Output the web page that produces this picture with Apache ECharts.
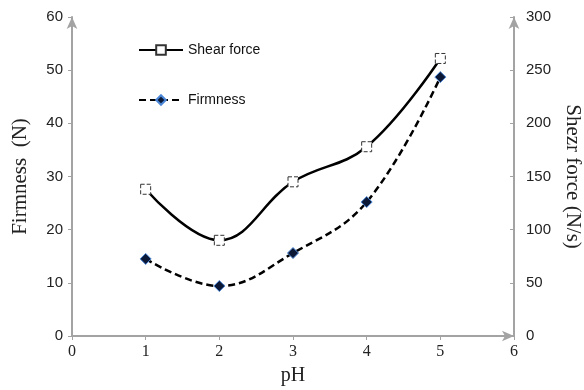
<!DOCTYPE html>
<html>
<head>
<meta charset="utf-8">
<script src="https://cdn.jsdelivr.net/npm/echarts@6/dist/echarts.min.js"></script>
<style>
	html, body { margin: 0; padding: 0; background: #fff; }
	#chart { width: 584px; height: 390px; }
</style>
</head>
<body>
<div id="chart"></div>
<script>
// pH values and the two measured series
var phValues = [1, 2, 3, 4, 5];
var shearForce = [138, 90, 145, 178, 261]; // N/s, right axis
var firmness = [14.5, 9.4, 15.6, 25.2, 48.7]; // N, left axis

function pairs(xs, ys) {
	return xs.map(function (x, i) { return [x, ys[i]]; });
}

var axisGray = "#a3a3a3";
var serif = "'Liberation Serif', 'DejaVu Serif', serif";
var sans = "'Liberation Sans', Arial, sans-serif";

var myChart = echarts.init(document.getElementById("chart"));
var option = {
	animation: false,
	backgroundColor: "#fff",
	grid: { left: 72, right: 70, top: 17, bottom: 54, outerBoundsMode: "none" },
	legend: {
		orient: "vertical",
		left: 133,
		top: 38,
		itemGap: 36,
		itemWidth: 44,
		itemHeight: 12,
		textStyle: { fontFamily: sans, fontSize: 14, color: "#111" },
		data: ["Shear force", "Firmness"],
	},
	xAxis: {
		type: "value",
		min: 0,
		max: 6,
		interval: 1,
		name: "pH",
		nameLocation: "middle",
		nameGap: 30,
		nameTextStyle: { fontFamily: serif, fontSize: 20, color: "#222" },
		axisLine: {
			lineStyle: { color: axisGray, width: 2 },
			symbol: ["none", "arrow"],
			symbolSize: [8, 12],
		},
		axisTick: { show: true, length: 4, lineStyle: { color: axisGray } },
		axisLabel: { fontFamily: serif, fontSize: 16, color: "#222", margin: 8 },
		splitLine: { show: false },
	},
	yAxis: [
		{
			type: "value",
			min: 0,
			max: 60,
			interval: 10,
			name: "Firmness  (N)",
			nameLocation: "middle",
			nameGap: 41,
			nameRotate: 90,
			nameTextStyle: { fontFamily: serif, fontSize: 21, color: "#222" },
			axisLine: {
				show: true,
				lineStyle: { color: axisGray, width: 2 },
				symbol: ["none", "arrow"],
				symbolSize: [8, 12],
			},
			axisTick: { show: true, length: 4, lineStyle: { color: axisGray } },
			axisLabel: { fontFamily: sans, fontSize: 15, color: "#222", margin: 9 },
			splitLine: { show: false },
		},
		{
			type: "value",
			min: 0,
			max: 300,
			interval: 50,
			position: "right",
			name: "Shezr force (N/s)",
			nameLocation: "middle",
			nameGap: 38,
			nameRotate: -90,
			nameTextStyle: { fontFamily: serif, fontSize: 21, color: "#222" },
			axisLine: {
				show: true,
				lineStyle: { color: axisGray, width: 2 },
				symbol: ["none", "arrow"],
				symbolSize: [8, 12],
			},
			axisTick: { show: true, inside: true, length: 4, lineStyle: { color: axisGray } },
			axisLabel: { fontFamily: sans, fontSize: 15, color: "#222", margin: 12 },
			splitLine: { show: false },
		},
	],
	series: [
		{
			name: "Shear force",
			type: "line",
			yAxisIndex: 1,
			smooth: 0.4,
			data: pairs(phValues, shearForce),
			symbol: "rect",
			symbolSize: 10,
			lineStyle: { color: "#000", width: 2.5, type: "solid" },
			itemStyle: { color: "#fff", borderColor: "#333", borderWidth: 1, borderType: "dashed" },
			z: 3,
		},
		{
			name: "Firmness",
			type: "line",
			yAxisIndex: 0,
			smooth: 0.4,
			data: pairs(phValues, firmness),
			symbol: "diamond",
			symbolSize: 11,
			lineStyle: { color: "#000", width: 2.5, type: [7, 4] },
			itemStyle: { color: "#0b1836", borderColor: "#4a86d6", borderWidth: 1 },
			z: 4,
		},
	],
};
myChart.setOption(option);
</script>
</body>
</html>
